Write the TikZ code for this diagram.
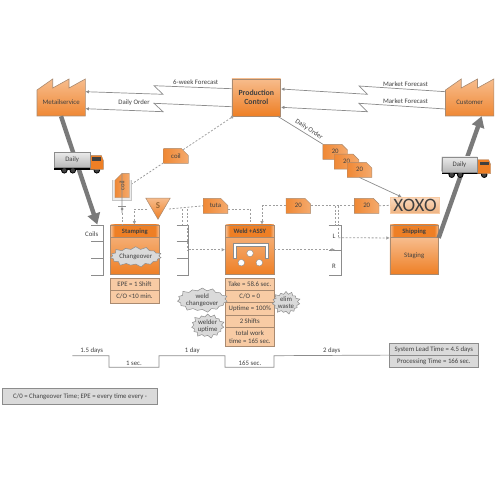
\documentclass[tikz,border=0pt]{standalone}
\usepackage{fontspec}
\setmainfont{Carlito}
\usepackage{xcolor}
\usetikzlibrary{positioning,arrows.meta,calc,shapes.geometric,shapes.misc,shapes.symbols}
\definecolor{orlight}{HTML}{F7BC8C}
\definecolor{ormain}{HTML}{EE7F25}
\definecolor{orpeach}{HTML}{F8CBA4}
\definecolor{edgebr}{HTML}{A98A70}
\definecolor{txtdark}{HTML}{404040}
\definecolor{linegr}{HTML}{8C8C8C}
\definecolor{biggr}{HTML}{7A7A7A}
\definecolor{notegr}{HTML}{DADADA}
\pgfdeclarehorizontalshading{hdrshade}{100bp}{color(0bp)=(orlight); color(25bp)=(orlight); color(29bp)=(ormain); color(71bp)=(ormain); color(75bp)=(orlight); color(100bp)=(orlight)}
\newcommand{\factory}[3]{%
  \shade[top color=orlight, bottom color=ormain!85!orlight, draw=edgebr, line width=.6pt]
    (#2,116) -- (#2,90) -- ++(15.7,-11) -- ++(0,9) -- ++(16.3,-9) -- ++(0,9) -- ++(16.3,-9) -- (#2+48.3,116) -- cycle;
  \node[lbl, minimum width=48pt, minimum height=28pt] (#1) at (#2+24.2,102) {#3};}
\newcommand{\truck}[3]{%
  \begin{scope}[shift={(#2,#3)}]
    \fill[black] (0,14.5) rectangle (42,17.5);
    \foreach \wx in {10,18.5,42.5} \fill[txtdark, draw=black, line width=.8pt] (\wx,18) circle (2.8);
    \path[fill=ormain, draw=edgebr, line width=.4pt] (36,3) -- (47,3) -- (49,8) -- (49,17) -- (36,17) -- cycle;
    \fill[txtdark] (38,5) rectangle (47,8.5);
    \node[trailer] (#1) at (17.8,7.5) {Daily};
  \end{scope}}
\newcommand{\stock}[4]{%
  \node[minimum width=#3-#2, minimum height=50pt, inner sep=0pt] (#1) at ({(#2+#3)/2},249.7) {};
  \draw[brk] (#2,225) -- (#3,225) -- (#3,275) -- (#2,275);
  \foreach \ty in {#4} \draw[brk] (#2,\ty) -- (#3,\ty);}
\begin{document}
\begin{tikzpicture}[x=1pt, y=-1pt,
  lbl/.style={font=\fontsize{6.8}{7.4}\selectfont, text=txtdark, align=center, inner sep=0pt},
  blk/.style={lbl, draw=edgebr, line width=.6pt, top color=orlight, bottom color=ormain},
  hdr/.style={lbl, font=\fontsize{6.6}{7.4}\selectfont\bfseries, draw=edgebr, line width=.6pt, shading=hdrshade, minimum width=48.3pt, minimum height=12.7pt},
  datab/.style={lbl, draw=edgebr, line width=.5pt, fill=orpeach, minimum width=49pt},
  tagb/.style={lbl, chamfered rectangle, chamfered rectangle corners=north east, chamfered rectangle xsep=5pt, chamfered rectangle ysep=5pt, draw=edgebr, line width=.4pt, left color=ormain!85!orlight, right color=orlight!70!ormain, minimum width=24.6pt, minimum height=15pt},
  burst/.style={lbl, starburst, starburst points=15, starburst point height=3.6pt, draw=linegr, line width=.5pt, fill=notegr},
  note/.style={lbl, draw=linegr, line width=.6pt, fill=notegr},
  trailer/.style={lbl, draw=linegr, line width=.3pt, top color=white!92!black, bottom color=black!28, minimum width=35.6pt, minimum height=15pt},
  brk/.style={linegr, line width=.8pt},
  elec/.style={linegr, line width=.7pt, -{Latex[length=3.5pt,width=3.5pt]}},
  dashgr/.style={black!38, line width=.8pt, dash pattern=on 2pt off 1.7pt},
  dasharr/.style={dashgr, -{Latex[length=3.5pt,width=3.5pt]}},
  big/.style={biggr, line width=4.4pt, -{Triangle[length=11pt,width=12.5pt]}}
]
\useasboundingbox (0,0) rectangle (500,500);
% top row
\factory{metal}{37}{Metailservice}
\factory{cust}{445.5}{Customer}
\node[blk, minimum width=48.7pt, minimum height=37pt, font=\fontsize{7.8}{9.4}\selectfont\bfseries] (pc) at (256.3,97.5) {Production\\Control};
% information lines
\draw[elec] (pc.west |- 0,88.7) -- (154,85.7) -- (163,94.3) -- (metal.east |- 0,91.7);
\draw[elec] (pc.west |- 0,106.7) -- (154,103.3) -- (163,111.7) -- (metal.east |- 0,108.7);
\draw[elec] (cust.west |- 0,91.7) -- (359,86) -- (367.3,94.3) -- (pc.east |- 0,89);
\draw[elec] (cust.west |- 0,109) -- (359,103.3) -- (367.3,111.7) -- (pc.east |- 0,107.3);
\node[lbl] (fcast) at (195.7,82.3) {6-week Forecast};
\node[lbl] (dord) at (134,103) {Daily Order};
\node[lbl] (mfa) at (405.5,84) {Market Forecast};
\node[lbl] (mfb) at (405.5,101.5) {Market Forecast};
% inventories
\stock{coils}{91}{103.3}{241.7,258.3}
\stock{invb}{176.7}{188.3}{241.7,258.3}
\stock{invc}{328.5}{341.7}{250}
\node[lbl] (coilstxt) at (91.7,234.3) {Coils};
\node[lbl] (ltxt) at (334,236.7) {L};
\node[lbl] (rtxt) at (334,266) {R};
% processes
\node[blk, minimum width=48.7pt, minimum height=49.3pt] (stamp) at (134.8,249.7) {};
\node[hdr] (stamph) at (134.8,231.3) {Stamping};
\node[blk, minimum width=48.7pt, minimum height=49.3pt] (weld) at (249.8,249.7) {};
\node[hdr] (weldh) at (249.8,231.3) {Weld +ASSY};
\node[blk, minimum width=48.7pt, minimum height=36.6pt] (stag) at (414.2,256) {Staging};
\node[hdr] (shiph) at (414.2,231.3) {Shipping};
\node[lbl, draw=orpeach, line width=.5pt, top color=orlight!55, bottom color=orlight!85!brown, minimum width=48.6pt, minimum height=16pt, font=\fontsize{19}{19}\selectfont] (xoxo) at (415,205.3) {XOXO};
% tags
\node[tagb] (tuta) at (215.5,205.8) {tuta};
\node[tagb] (tga) at (298.3,205.8) {20};
\node[tagb] (tgb) at (366.7,205.8) {20};
\node[regular polygon, regular polygon sides=3, shape border rotate=180, minimum size=28.4pt, inner sep=0pt, draw=edgebr, line width=.5pt, top color=orlight, bottom color=ormain] (sig) at (158,205.1) {};
\node[lbl, font=\fontsize{9}{9}\selectfont\bfseries, text=brown!80!black] (sigtxt) at (158,206) {S};
\coordinate (sigl) at (147,209);
\coordinate (sigr) at (169,209);
% kanban lines
\coordinate (coilv) at (131.7,184);
\draw[dashgr, {Circle[length=3pt]}-] ([xshift=-23pt]pc.south) -- (coilv);
\node[tagb] (coilt) at (176,155.8) {coil};
\draw[dasharr] (sigl) -| (stamph.north -| 134.4,0);
\draw[dashgr] (sigr) -- (tuta.west);
\draw[dashgr] (182.3,209) -- (182.3,225);
\draw[dashgr] (187.7,209) -- (187.7,250);
\draw[dashgr] (tuta.east |- 0,209) -| (250,224);
\draw[dasharr] (tga.west) -| (weldh.north -| 262,0);
\draw[dashgr] (tga.east) -- (tgb.west);
\draw[dashgr] (tgb.east) -- (xoxo.west);
\draw[dashgr] (335,205.8) -- (335,226);
\draw[dashgr] (338.3,205.8) -- (338.3,237.7);
\draw[dasharr] (338.3,237.7) -- (shiph.south west);
\draw[dasharr] (invb.east) -- (weld.west);
\draw[dasharr] (weld.east) -- (invc.center);
% coil signal
\draw[linegr!50, line width=.8pt, fill=notegr!50] (112.7,180) -- (112.7,200) -- (131.7,200) -- (131.7,180);
\node[tagb, rotate=90, minimum width=24.4pt, minimum height=14.3pt] (coilk) at (122.1,185.5) {coil};
\draw[linegr, line width=.7pt] (coilk.east) -- (122,213);
\draw[linegr, line width=.7pt] (118,206) -- (126,206);
\fill[linegr] (122,209) circle (1.5);
\draw[dashgr] (122,213) -- (122,225);
% order line
\node[tagb] (ka) at (335.2,151.8) {20};
\node[tagb] (kb) at (346.5,161.6) {20};
\node[tagb] (kc) at (359.5,169.8) {20};
\draw[linegr, line width=.7pt] ([xshift=21.4pt]pc.south) -- (ka.north west);
\draw[elec] (kc.south) -- (xoxo.north -| 401.7,0);
\node[lbl, rotate=-33] (dotxt) at (309,129.5) {Daily Order};
% cell icon
\path[fill=white, draw=linegr, line width=.4pt] (233.3,258.3) -- (233.3,243.3) -- (268.3,243.3) -- (268.3,258.3) -- (265,258.3) -- (265,246.6) -- (236.6,246.6) -- (236.6,258.3) -- cycle;
\foreach \cx/\cy in {250/253.3,241.3/262.7,259.3/262.7} \path[fill=white, draw=linegr, line width=.4pt] (\cx,\cy) circle (3.3);
% data boxes
\node[datab, minimum height=12.3pt] (epe) at (134.5,284.5) {EPE = 1 Shift};
\node[datab, minimum height=12.1pt] (co) at (134.5,296.7) {C/O <10 min.};
\node[datab, minimum height=12.4pt] (take) at (249.8,284.5) {Take = 58.6 sec.};
\node[datab, minimum height=12pt] (cozero) at (249.8,296.7) {C/O = 0};
\node[datab, minimum height=12.3pt] (upt) at (249.8,308.8) {Uptime = 100\%};
\node[datab, minimum height=12.3pt] (shf) at (249.8,321.2) {2 Shifts};
\node[datab, minimum height=19.4pt] (twk) at (249.8,337) {total work\\time = 165 sec.};
% kaizen bursts
\node[burst, minimum width=34pt, minimum height=22pt] (chg) at (135.7,256.7) {Changeover};
\node[burst, minimum width=34pt, minimum height=19pt] (wchg) at (202.3,300) {weld\\changeover};
\node[burst, minimum width=26pt, minimum height=18pt] (wupt) at (207.7,326) {welder\\uptime};
\node[burst, minimum width=22pt, minimum height=15pt] (elim) at (286,302.7) {elim\\waste};
% shipments
\draw[big] (metal.south -| 61,0) -- (coils.north -| 97.3,0);
\draw[big] (shiph.south east) -- (cust.south -| 481.7,0);
\truck{trla}{54.3}{152.3}
\truck{trlb}{441.7}{156.7}
% timeline
\node[lbl] (tla) at (91.7,350.7) {1.5 days};
\node[lbl] (tlb) at (134,363.3) {1 sec.};
\node[lbl] (tlc) at (192.3,350.7) {1 day};
\node[lbl] (tld) at (250,363.3) {165 sec.};
\node[lbl] (tle) at (331.7,351) {2 days};
\node[note, minimum width=89pt, minimum height=12pt] (slt) at (433.8,349.4) {System Lead Time = 4.5 days};
\node[note, minimum width=89pt, minimum height=12pt] (ptm) at (433.8,361.4) {Processing Time = 166 sec.};
\draw[linegr, line width=.7pt] (72.3,355.7) -- (109,355.7) -- (109,367.3) -- (159,367.3) -- (159,355.7) -- (225,355.7) -- (225,367.3) -- (274,367.3) -- (274,355.7) -- (ptm.north west);
\node[note, minimum width=155.4pt, minimum height=16pt] (lgd) at (80,396.3) {C/0 = Changeover Time; EPE = every time every -};
\end{tikzpicture}
\end{document}
